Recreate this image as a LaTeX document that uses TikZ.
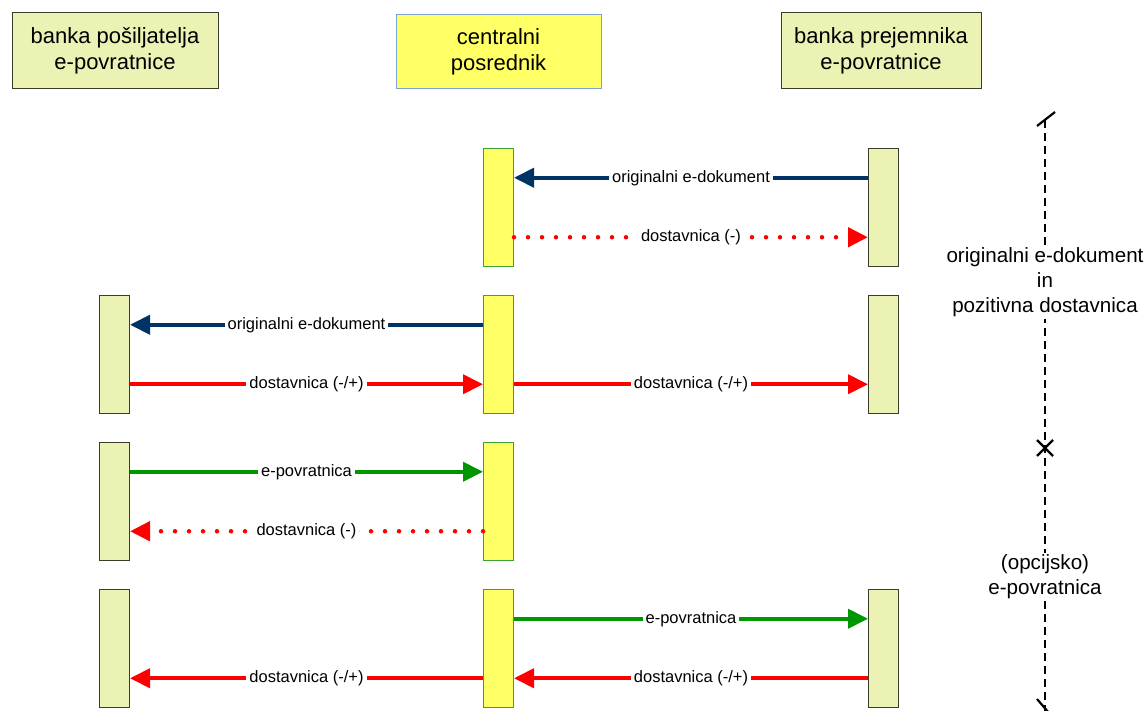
\documentclass[tikz,border=0pt]{standalone}
\usepackage{fontspec}
\setmainfont{Liberation Sans}
\usetikzlibrary{arrows.meta,calc}
\definecolor{bankfill}{RGB}{236,241,180}
\definecolor{bankdraw}{RGB}{60,60,45}
\definecolor{cpfill}{RGB}{255,255,102}
\definecolor{cpdraw}{RGB}{60,160,50}
\definecolor{cphead}{RGB}{130,160,205}
\definecolor{navy}{RGB}{0,51,102}
\definecolor{msgred}{RGB}{255,0,0}
\definecolor{msggreen}{RGB}{0,150,0}
\newcommand\edgeat[3]{($(#1.north #2)!#3!(#1.south #2)$)}
\begin{document}
\begin{tikzpicture}[x=1pt,y=-1pt,
  hdr/.style={line width=1pt, align=center, font=\fontsize{22}{26}\selectfont, inner sep=0pt},
  bankhdr/.style={hdr, fill=bankfill, draw=bankdraw},
  cphdr/.style={hdr, fill=cpfill, draw=cphead},
  barbox/.style={minimum width=30pt, minimum height=118pt, inner sep=0pt, anchor=north west, line width=1pt},
  bankbar/.style={barbox, fill=bankfill, draw=bankdraw},
  cpbar/.style={barbox, fill=cpfill, draw=cpdraw},
  solidmsg/.style={line width=4pt, -{Triangle[length=20pt,width=19pt]}},
  dotmsg/.style={line width=4.5pt, dash pattern=on 0pt off 14pt, line cap=round, -{Triangle[length=20pt,width=19pt]}},
  lbl/.style={fill=white, inner xsep=3pt, inner ysep=1.5pt, text=black, font=\fontsize{16.5}{19}\selectfont},
  tline/.style={line width=2pt, dash pattern=on 8pt off 5pt, black},
  tmark/.style={line width=2.2pt, black},
  tlbl/.style={fill=white, inner sep=2pt, align=center, font=\fontsize{20.6}{25}\selectfont}
]
\useasboundingbox (0,0) rectangle (1147,711);

% headers
\node[bankhdr, minimum width=206pt, minimum height=76pt] (hS) at (115,51) {banka pošiljatelja\\e-povratnice};
\node[cphdr, minimum width=205pt, minimum height=74pt] (hC) at (498.5,52) {centralni\\posrednik};
\node[bankhdr, minimum width=200pt, minimum height=76pt] (hR) at (881,51) {banka prejemnika\\e-povratnice};

% activation bars
\node[cpbar] (CA) at (483,148) {};
\node[bankbar] (RA) at (868,148) {};
\node[bankbar] (LB) at (99,295) {};
\node[cpbar] (CB) at (483,295) {};
\node[bankbar] (RB) at (868,295) {};
\node[bankbar] (LC) at (99,442) {};
\node[cpbar] (CC) at (483,442) {};
\node[bankbar] (LD) at (99,589) {};
\node[cpbar] (CD) at (483,589) {};
\node[bankbar] (RD) at (868,589) {};

% row A
\draw[solidmsg, navy] \edgeat{RA}{west}{0.25} -- node[lbl]{originalni e-dokument} \edgeat{CA}{east}{0.25};
\draw[dotmsg, msgred] \edgeat{CA}{east}{0.75} -- node[lbl]{dostavnica (-)} \edgeat{RA}{west}{0.75};

% row B
\draw[solidmsg, navy] \edgeat{CB}{west}{0.25} -- node[lbl]{originalni e-dokument} \edgeat{LB}{east}{0.25};
\draw[solidmsg, msgred] \edgeat{LB}{east}{0.75} -- node[lbl]{dostavnica (-/+)} \edgeat{CB}{west}{0.75};
\draw[solidmsg, msgred] \edgeat{CB}{east}{0.75} -- node[lbl]{dostavnica (-/+)} \edgeat{RB}{west}{0.75};

% row C
\draw[solidmsg, msggreen] \edgeat{LC}{east}{0.25} -- node[lbl]{e-povratnica} \edgeat{CC}{west}{0.25};
\draw[dotmsg, msgred] \edgeat{CC}{west}{0.75} -- node[lbl]{dostavnica (-)} \edgeat{LC}{east}{0.75};

% row D
\draw[solidmsg, msggreen] \edgeat{CD}{east}{0.25} -- node[lbl]{e-povratnica} \edgeat{RD}{west}{0.25};
\draw[solidmsg, msgred] \edgeat{RD}{west}{0.75} -- node[lbl]{dostavnica (-/+)} \edgeat{CD}{east}{0.75};
\draw[solidmsg, msgred] \edgeat{CD}{west}{0.75} -- node[lbl]{dostavnica (-/+)} \edgeat{LD}{east}{0.75};

% timeline
\coordinate (tTop) at (1045,120);
\coordinate (tX) at (1045,448);
\coordinate (tBot) at (1045,711);
\draw[tline] (tTop) -- (tX) -- (tBot);
\draw[tmark] ($(tTop)+(-8,6)$) -- ($(tTop)+(10,-8)$);
\draw[tmark] ($(tX)+(-8,-8)$) -- ($(tX)+(8,8)$);
\draw[tmark] ($(tX)+(-8,8)$) -- ($(tX)+(8,-8)$);
\draw[tmark] ($(tBot)+(-8,-12)$) -- ($(tBot)+(4,2)$);
\node[tlbl] (tl1) at (1045,282) {originalni e-dokument\\in\\pozitivna dostavnica};
\node[tlbl] (tl2) at (1045,577) {(opcijsko)\\e-povratnica};
\end{tikzpicture}
\end{document}
